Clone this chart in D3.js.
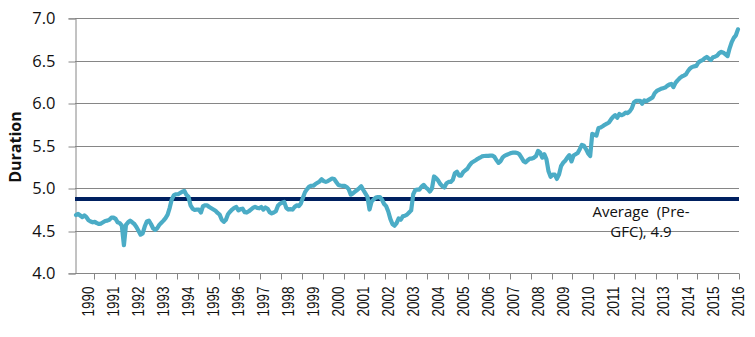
<!DOCTYPE html>
<html>
<head>
<meta charset="utf-8">
<script src="https://cdn.jsdelivr.net/npm/d3@7/dist/d3.min.js"></script>
<style>
  html, body { margin: 0; padding: 0; background: #fff; }
  svg { display: block; }
</style>
</head>
<body>
<svg id="chart" width="755" height="337"></svg>
<script>
// Monthly duration series, July 1989 onwards (one value per month)
const startYear = 1989;
const startMonth = 6; // July (0-based)
const duration = [
  4.685, 4.70, 4.68, 4.66, 4.68, 4.66,
  4.625, 4.61, 4.60, 4.605, 4.59, 4.58, 4.585, 4.60, 4.615, 4.62, 4.63, 4.655,
  4.655, 4.64, 4.60, 4.59, 4.56, 4.33, 4.57, 4.60, 4.618, 4.60, 4.58, 4.545,
  4.50, 4.455, 4.47, 4.55, 4.61, 4.62, 4.58, 4.53, 4.51, 4.53, 4.57, 4.595,
  4.62, 4.65, 4.69, 4.77, 4.87, 4.92, 4.93, 4.93, 4.945, 4.96, 4.97, 4.925,
  4.90, 4.80, 4.76, 4.745, 4.75, 4.75, 4.715, 4.79, 4.80, 4.80, 4.78, 4.765,
  4.75, 4.735, 4.71, 4.69, 4.63, 4.605, 4.63, 4.695, 4.725, 4.75, 4.77, 4.78,
  4.74, 4.755, 4.76, 4.72, 4.715, 4.73, 4.75, 4.77, 4.783, 4.77, 4.765, 4.78,
  4.75, 4.775, 4.76, 4.72, 4.705, 4.715, 4.73, 4.795, 4.82, 4.83, 4.84, 4.77,
  4.75, 4.755, 4.75, 4.78, 4.80, 4.79, 4.82, 4.89, 4.955, 4.99, 5.02, 5.03,
  5.03, 5.05, 5.065, 5.08, 5.107, 5.085, 5.075, 5.085, 5.10, 5.115, 5.11, 5.075,
  5.04, 5.033, 5.029, 5.029, 5.015, 4.99, 4.925, 4.94, 4.96, 4.98, 5.00, 5.025,
  4.98, 4.94, 4.90, 4.75, 4.845, 4.87, 4.89, 4.896, 4.896, 4.865, 4.815, 4.79,
  4.727, 4.64, 4.58, 4.56, 4.59, 4.645, 4.63, 4.67, 4.677, 4.69, 4.715, 4.74,
  4.93, 4.98, 4.985, 4.985, 5.02, 5.04, 5.01, 4.99, 4.962, 5.00, 5.139, 5.12,
  5.09, 5.05, 5.025, 5.01, 5.06, 5.075, 5.075, 5.10, 5.178, 5.195, 5.15, 5.15,
  5.19, 5.21, 5.23, 5.27, 5.30, 5.315, 5.33, 5.347, 5.36, 5.375, 5.38, 5.381,
  5.381, 5.385, 5.385, 5.37, 5.33, 5.30, 5.32, 5.365, 5.385, 5.395, 5.405, 5.415,
  5.42, 5.42, 5.415, 5.40, 5.36, 5.32, 5.305, 5.33, 5.35, 5.35, 5.36, 5.38,
  5.44, 5.42, 5.36, 5.40, 5.34, 5.20, 5.135, 5.16, 5.16, 5.11, 5.16, 5.26,
  5.30, 5.325, 5.36, 5.39, 5.316, 5.385, 5.40, 5.415, 5.46, 5.51, 5.50, 5.46,
  5.41, 5.38, 5.64, 5.63, 5.62, 5.71, 5.715, 5.73, 5.747, 5.76, 5.775, 5.81,
  5.84, 5.86, 5.83, 5.875, 5.86, 5.87, 5.89, 5.885, 5.905, 5.94, 6.01, 6.029,
  6.03, 6.03, 5.995, 6.035, 6.025, 6.04, 6.055, 6.07, 6.12, 6.145, 6.158, 6.17,
  6.178, 6.185, 6.205, 6.22, 6.228, 6.19, 6.24, 6.27, 6.295, 6.315, 6.326, 6.34,
  6.38, 6.41, 6.428, 6.435, 6.44, 6.48, 6.498, 6.508, 6.53, 6.545, 6.525, 6.51,
  6.542, 6.548, 6.56, 6.59, 6.605, 6.595, 6.575, 6.555, 6.647, 6.72, 6.77, 6.80,
  6.87
];

// Pre-GFC average
const averageValue = 4.874;
const averageLabel = ["Average  (Pre-", "GFC), " + d3.format(".1f")(averageValue)];

// Axis labels
const yTickValues = [4.0, 4.5, 5.0, 5.5, 6.0, 6.5, 7.0];
const yearLabels = d3.range(1990, 2017);
const yTitle = "Duration";

// ---- layout ----
const plot = { left: 75, right: 739, top: 18.3, bottom: 273.3 };
const nSlots = duration.length; // one slot per month

const svg = d3.select("#chart");

const x = d3.scaleLinear().domain([0, nSlots]).range([plot.left, plot.right]);
const y = d3.scaleLinear().domain([4, 7]).range([plot.bottom, plot.top]);

const monthIndex = (year, month) => (year - startYear) * 12 + (month - startMonth);

// horizontal gridlines
svg.append("g")
  .selectAll("line")
  .data(yTickValues.filter(v => v > 4))
  .join("line")
  .attr("x1", plot.left)
  .attr("x2", plot.right)
  .attr("y1", d => Math.round(y(d)) + 0.5)
  .attr("y2", d => Math.round(y(d)) + 0.5)
  .attr("stroke", "#868686")
  .attr("stroke-width", 1);

// y axis
const yAxis = d3.axisLeft(y)
  .tickValues(yTickValues)
  .tickFormat(d3.format(".1f"))
  .tickSize(7)
  .tickPadding(13);
const gy = svg.append("g")
  .attr("transform", `translate(${plot.left + 0.5},0)`)
  .call(yAxis);
gy.select(".domain").attr("stroke", "#868686");
gy.selectAll(".tick line").attr("stroke", "#868686")
  .attr("transform", d => `translate(0,${Math.round(y(d)) + 0.5 - y(d)})`);
gy.selectAll(".tick text")
  .attr("font-family", "'Open Sans', sans-serif")
  .attr("font-size", 16.5)
  .attr("fill", "#111");

// x axis: baseline, tick marks every 10 months counted back from the end
const xBase = Math.round(plot.bottom) + 0.5;
svg.append("line")
  .attr("x1", plot.left).attr("x2", plot.right)
  .attr("y1", xBase).attr("y2", xBase)
  .attr("stroke", "#868686");

const tickSlots = d3.range(nSlots, 0, -10);
svg.append("g")
  .selectAll("line")
  .data(tickSlots)
  .join("line")
  .attr("x1", d => Math.round(x(d)) + 0.5)
  .attr("x2", d => Math.round(x(d)) + 0.5)
  .attr("y1", xBase)
  .attr("y2", xBase + 6)
  .attr("stroke", "#868686");

// year labels at January of each year
svg.append("g")
  .selectAll("text")
  .data(yearLabels)
  .join("text")
  .attr("transform", d => `translate(${x(monthIndex(d, 0) + 0.5)},286.5) rotate(-90)`)
  .attr("text-anchor", "end")
  .attr("dy", "0.36em")
  .attr("font-family", "'Liberation Sans', Arial, sans-serif")
  .attr("font-size", 16.5)
  .attr("textLength", 30)
  .attr("lengthAdjust", "spacingAndGlyphs")
  .attr("fill", "#111")
  .text(d => d);

// y axis title
svg.append("text")
  .attr("transform", "translate(15,147) rotate(-90)")
  .attr("text-anchor", "middle")
  .attr("dy", "0.35em")
  .attr("font-family", "'Open Sans', sans-serif")
  .attr("font-weight", "bold")
  .attr("font-size", 16)
  .attr("fill", "#111")
  .text(yTitle);

// average line
svg.append("line")
  .attr("x1", plot.left)
  .attr("x2", plot.right)
  .attr("y1", y(averageValue))
  .attr("y2", y(averageValue))
  .attr("stroke", "#002060")
  .attr("stroke-width", 4);

// duration series
const line = d3.line()
  .x((d, i) => x(i + 0.5))
  .y(d => y(d));
svg.append("path")
  .datum(duration)
  .attr("d", line)
  .attr("fill", "none")
  .attr("stroke", "#4bacc6")
  .attr("stroke-width", 4.2)
  .attr("stroke-linejoin", "round")
  .attr("stroke-linecap", "round");

// average label
svg.append("g")
  .selectAll("text")
  .data(averageLabel)
  .join("text")
  .attr("x", 641)
  .attr("y", (d, i) => 212 + i * 19.5)
  .attr("dy", "0.35em")
  .attr("text-anchor", "middle")
  .attr("font-family", "'Open Sans', sans-serif")
  .attr("font-size", 15)
  .attr("fill", "#111")
  .style("white-space", "pre")
  .text(d => d);
</script>
</body>
</html>
